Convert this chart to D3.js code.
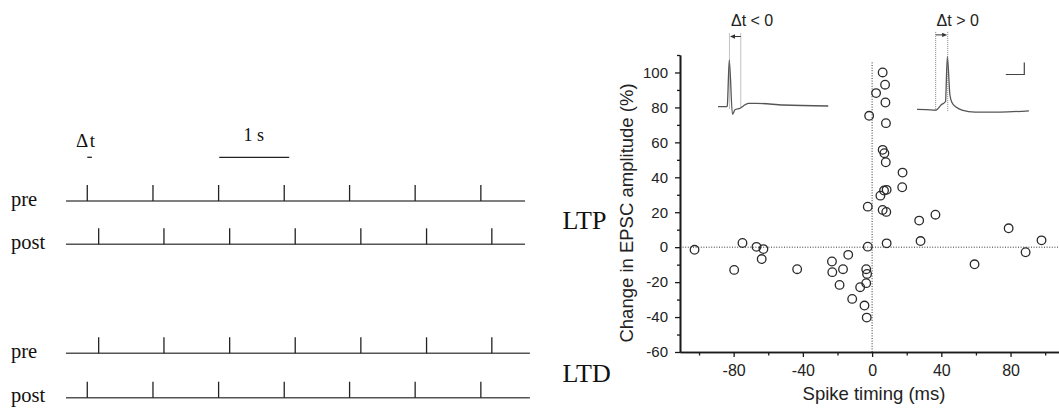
<!DOCTYPE html>
<html>
<head>
<meta charset="utf-8">
<script src="https://cdn.jsdelivr.net/npm/d3@7"></script>
<style>
  body { margin: 0; background: #fff; }
  svg { display: block; }
</style>
</head>
<body>
<svg id="fig" width="1059" height="408"></svg>
<script>
// ---------- Spike-train protocol (seconds) ----------
const trainLabels = ["pre", "post", "pre", "post"];
const spikesEarly = [0.304, 1.243, 2.181, 3.119, 4.053, 4.990, 5.929];
const spikesLate  = [0.467, 1.400, 2.339, 3.276, 4.214, 5.153, 6.086];
const trainEnds   = [6.56, 6.56, 6.63, 6.63];
const scaleBarSec = [2.19, 3.19];
const deltaTSec   = [0.304, 0.37];

// ---------- Scatter: spike timing vs. change in EPSC amplitude ----------
const timingMs = [-102.6, -74.9, -66.8, -62.8, -63.8, -79.7, -43.3, -23.2, -23.0, -16.8,
                  -13.8, -18.8, -11.5, -6.9, -3.4, -3.4, -2.9, -4.4, -3.1, -2.5,
                  -2.5, -1.7, 2.3, 6.1, 7.5, 7.7, 8.0, 6.1, 7.1, 7.9,
                  17.6, 17.4, 6.9, 8.4, 4.8, 6.1, 8.2, 8.4, 27.2, 28.0,
                  36.6, 59.2, 78.9, 88.7, 97.9];
const changePct = [-1.5, 2.4, 0.2, -1.1, -6.8, -13.0, -12.6, -8.2, -14.3, -12.6,
                   -4.4, -21.6, -29.6, -22.9, -20.6, -12.6, -15.3, -33.4, -40.3, 0.3,
                   23.2, 75.2, 88.2, 100.0, 93.0, 82.8, 71.0, 55.7, 53.8, 48.6,
                   42.7, 34.3, 32.4, 32.8, 29.5, 21.3, 20.2, 2.2, 15.2, 3.5,
                   18.6, -9.8, 10.8, -2.9, 3.9];
const xMajorTicks = [-80, -40, 0, 40, 80];
const xMinorTicks = [-100, -60, -20, 20, 60, 100];
const yMajorTicks = [-60, -40, -20, 0, 20, 40, 60, 80, 100];
const yMinorTicks = [-50, -30, -10, 10, 30, 50, 70, 90, 110];

// ---------- Example recordings (ms, mV) ----------
const negTraceT = [0, 4.7, 5.0, 6.1, 7.8, 9.2, 11.9, 13.7, 16.4, 20.9, 35.3, 59.6];
const negTraceV = [0, 0, 0.5, 39.0, -6.3, -2.6, -1.3, 0.6, 2.8, 2.8, 1.4, 0.6];
const posTraceT = [0, 4.9, 10.1, 13.0, 15.4, 16.4, 17.8, 18.9, 21.1, 24.3, 31.4, 44.9, 60.5];
const posTraceV = [0, -0.2, -0.8, 3.6, 6.5, 43.8, 11.9, 5.7, 1.9, -0.6, -2.3, -2.3, -1.25];
const negMarkersMs = [6.2, 12.3];
const posMarkersMs = [10.1, 16.6];
const arrowLevelMv = [58.5, 62];
const insetTitles = ["\u0394t < 0", "\u0394t > 0"];
const barMs = 10, barMv = 10;
const barCorner = [58, 29];

const svg = d3.select("#fig");
const sans = "'Liberation Sans', Arial, Helvetica, sans-serif";
const serif = "'Liberation Serif', 'Times New Roman', Times, serif";
const plainNumber = d => String(d);

// ================= Left panel: spike trains =================
const tx = d3.scaleLinear().domain([0, 6.56]).range([66, 525]);
const rowY = [201, 244.3, 353.3, 397.7];
const rowSpikes = [spikesEarly, spikesLate, spikesLate, spikesEarly];
const tickH = 16;

const trains = svg.append("g");
rowY.forEach((yy, i) => {
  trains.append("line")
    .attr("x1", tx(0)).attr("x2", tx(trainEnds[i]))
    .attr("y1", yy).attr("y2", yy)
    .attr("stroke", "#555").attr("stroke-width", 1.5);
  trains.selectAll(null).data(rowSpikes[i]).enter().append("line")
    .attr("x1", d => tx(d)).attr("x2", d => tx(d))
    .attr("y1", yy).attr("y2", yy - tickH)
    .attr("stroke", "#222").attr("stroke-width", 1.3);
  trains.append("text")
    .attr("x", 11).attr("y", yy + 4.5)
    .attr("font-family", serif).attr("font-size", 20.5)
    .attr("fill", "#111")
    .text(trainLabels[i]);
});

trains.append("line")
  .attr("x1", tx(scaleBarSec[0])).attr("x2", tx(scaleBarSec[1]))
  .attr("y1", 157.3).attr("y2", 157.3)
  .attr("stroke", "#222").attr("stroke-width", 1.3);
trains.append("text")
  .attr("x", (tx(scaleBarSec[0]) + tx(scaleBarSec[1])) / 2 - 0.5).attr("y", 141)
  .attr("text-anchor", "middle")
  .attr("font-family", serif).attr("font-size", 18).attr("fill", "#111")
  .text("1 s");
trains.append("line")
  .attr("x1", tx(deltaTSec[0])).attr("x2", tx(deltaTSec[1]))
  .attr("y1", 157.3).attr("y2", 157.3)
  .attr("stroke", "#222").attr("stroke-width", 1.3);
trains.append("text")
  .attr("x", 76).attr("y", 147)
  .attr("font-family", serif).attr("font-size", 19).attr("fill", "#111")
  .attr("letter-spacing", 1.5)
  .text("\u0394t");

// LTP / LTD labels
svg.append("text").attr("x", 562.5).attr("y", 229.3)
  .attr("font-family", serif).attr("font-size", 26).attr("fill", "#111").text("LTP");
svg.append("text").attr("x", 562.5).attr("y", 381.7)
  .attr("font-family", serif).attr("font-size", 26).attr("fill", "#111").text("LTD");

// ================= Right panel: STDP scatter =================
const x = d3.scaleLinear().domain([-111, 108]).range([680, 1059]);
const y = d3.scaleLinear().domain([-60, 110]).range([352, 55]);

const axisColor = "#1a1a1a";
function styleAxis(g) {
  g.selectAll("path.domain").attr("stroke", axisColor).attr("stroke-width", 1.6);
  g.selectAll(".tick line").attr("stroke", axisColor).attr("stroke-width", 1.3);
  g.selectAll(".tick text").attr("fill", "#222").attr("font-family", sans);
}

// zero reference lines
svg.append("line")
  .attr("x1", x(-111)).attr("x2", x(108)).attr("y1", y(0)).attr("y2", y(0))
  .attr("stroke", "#333").attr("stroke-width", 1).attr("stroke-dasharray", "1,1.6");
svg.append("line")
  .attr("x1", x(0)).attr("x2", x(0)).attr("y1", y(-60)).attr("y2", y(106))
  .attr("stroke", "#333").attr("stroke-width", 1).attr("stroke-dasharray", "1,1.6");

// y axis
const gyMinor = svg.append("g").attr("transform", `translate(${x(-111)},0)`)
  .call(d3.axisLeft(y).tickValues(yMinorTicks).tickSize(3).tickSizeOuter(0).tickFormat(""));
styleAxis(gyMinor);
const gy = svg.append("g").attr("transform", `translate(${x(-111)},0)`)
  .call(d3.axisLeft(y).tickValues(yMajorTicks).tickSize(5).tickSizeOuter(0).tickPadding(7)
    .tickFormat(plainNumber));
styleAxis(gy);
gy.selectAll(".tick text").attr("font-size", 15);

// x axis
const gxMinor = svg.append("g").attr("transform", `translate(0,${y(-60)})`)
  .call(d3.axisBottom(x).tickValues(xMinorTicks).tickSize(3.5).tickSizeOuter(0).tickFormat(""));
styleAxis(gxMinor);
const gx = svg.append("g").attr("transform", `translate(0,${y(-60)})`)
  .call(d3.axisBottom(x).tickValues(xMajorTicks).tickSize(5).tickSizeOuter(0).tickPadding(8)
    .tickFormat(plainNumber));
styleAxis(gx);
gx.selectAll(".tick text").attr("font-size", 16);

// axis titles
svg.append("text")
  .attr("x", 874).attr("y", 400)
  .attr("text-anchor", "middle")
  .attr("font-family", sans).attr("font-size", 18.5).attr("fill", "#222")
  .text("Spike timing (ms)");
svg.append("text")
  .attr("transform", "translate(633,213) rotate(-90)")
  .attr("text-anchor", "middle")
  .attr("font-family", sans).attr("font-size", 18.5).attr("fill", "#222")
  .text("Change in EPSC amplitude (%)");

// data points
svg.append("g").selectAll("circle")
  .data(d3.range(timingMs.length)).enter().append("circle")
  .attr("cx", i => x(timingMs[i]))
  .attr("cy", i => y(changePct[i]))
  .attr("r", 4.3)
  .attr("fill", "none")
  .attr("stroke", "#2a2a2a").attr("stroke-width", 1.3);

// ================= Inset recordings =================
const insets = [
  { t: negTraceT, v: negTraceV, markers: negMarkersMs, x0: 718, y0: 106.7, dir: -1 },
  { t: posTraceT, v: posTraceV, markers: posMarkersMs, x0: 917, y0: 109.3, dir: 1 }
];
insets.forEach((ins, k) => {
  const ix = d3.scaleLinear().domain([0, 60]).range([ins.x0, ins.x0 + 111]);
  const iy = d3.scaleLinear().domain([0, 10]).range([ins.y0, ins.y0 - 12]);
  const g = svg.append("g");
  const line = d3.line().x(i => ix(ins.t[i])).y(i => iy(ins.v[i])).curve(d3.curveMonotoneX);
  g.append("path")
    .attr("d", line(d3.range(ins.t.length)))
    .attr("fill", "none").attr("stroke", "#555").attr("stroke-width", 1.3)
    .attr("stroke-linejoin", "round");
  // dotted timing markers
  ins.markers.forEach(m => {
    g.append("line")
      .attr("x1", ix(m)).attr("x2", ix(m))
      .attr("y1", iy(arrowLevelMv[k] + 2.5)).attr("y2", iy(-1.5))
      .attr("stroke", "#777").attr("stroke-width", 0.9).attr("stroke-dasharray", "1,1");
  });
  // arrow between markers
  const ay = iy(arrowLevelMv[k]);
  const from = ins.dir < 0 ? ix(ins.markers[1]) : ix(ins.markers[0]);
  const to = ins.dir < 0 ? ix(ins.markers[0]) : ix(ins.markers[1]);
  g.append("line").attr("x1", from).attr("x2", to - ins.dir * 3).attr("y1", ay).attr("y2", ay)
    .attr("stroke", "#333").attr("stroke-width", 1);
  const tip = to - ins.dir * 0.5;
  g.append("path")
    .attr("d", `M${tip},${ay} L${tip - ins.dir * 5},${ay - 2.2} L${tip - ins.dir * 5},${ay + 2.2} Z`)
    .attr("fill", "#333");
  // title
  g.append("text")
    .attr("x", (ix(ins.markers[0]) + ix(ins.markers[1])) / 2 + (k === 0 ? 17 : 16)).attr("y", 26)
    .attr("text-anchor", "middle")
    .attr("font-family", sans).attr("font-size", 16).attr("fill", "#222")
    .text(insetTitles[k]);
  // calibration bar on the second recording
  if (k === 1) {
    g.append("path")
      .attr("d", `M${ix(barCorner[0] - barMs)},${iy(barCorner[1])} H${ix(barCorner[0])} V${iy(barCorner[1] + barMv)}`)
      .attr("fill", "none").attr("stroke", "#444").attr("stroke-width", 1.2);
  }
});
</script>
</body>
</html>
